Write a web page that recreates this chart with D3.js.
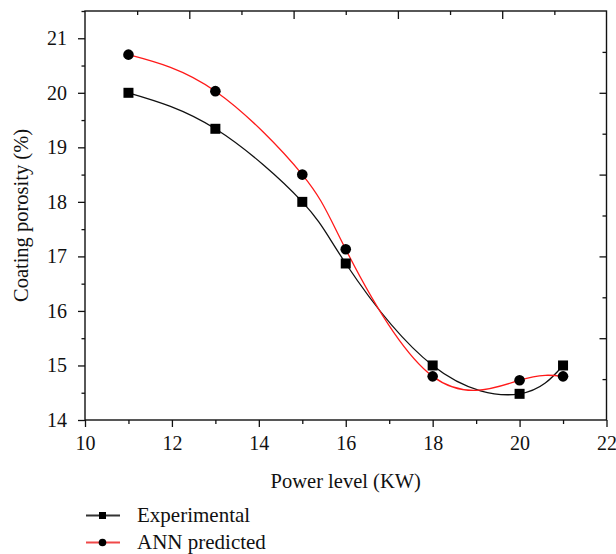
<!doctype html>
<html>
<head>
<meta charset="utf-8">
<title>Coating porosity vs power level</title>
<script src="https://d3js.org/d3.v7.min.js"></script>
<style>
  body { margin: 0; background: #fff; }
  svg text { font-family: "Liberation Serif", "DejaVu Serif", serif; fill: #111; }
</style>
</head>
<body>
<div id="chart"></div>
<script>
// data
const powerLevels = [11, 13, 15, 16, 18, 20, 21];
const experimental = [20.0, 19.34, 18.0, 16.87, 15.0, 14.48, 15.0];
const annPredicted = [20.7, 20.03, 18.5, 17.13, 14.8, 14.73, 14.8];
const xTicks = [10, 12, 14, 16, 18, 20, 22];
const xMinor = [11, 13, 15, 17, 19, 21];
const yTicks = [14, 15, 16, 17, 18, 19, 20, 21];
const yMinor = [14.5, 15.5, 16.5, 17.5, 18.5, 19.5, 20.5, 21.5];

const w = 616, h = 554;
const plotL = 85, plotR = 606.5, plotT = 11, plotB = 420;

const svg = d3.select("#chart").append("svg")
  .attr("width", w).attr("height", h);

const x = d3.scaleLinear().domain([10, 22]).range([plotL, plotR]);
const y = d3.scaleLinear().domain([14, 21.5]).range([plotB, plotT]);

// secondary scales only for the top/right tick marks (10 divisions each)
const xTop = d3.scaleLinear().domain([0, 10]).range([plotL, plotR]);
const yRight = d3.scaleLinear().domain([0, 10]).range([plotB, plotT]);

function styleAxis(g) {
  g.select(".domain").remove();
  g.selectAll(".tick line").attr("stroke", "#111").attr("stroke-width", 1.3);
  g.selectAll(".tick text").style("font-size", "20px").attr("fill", "#111");
}

// bottom axis
svg.append("g").attr("transform", "translate(0," + plotB + ")")
  .call(d3.axisBottom(x).tickValues(xTicks).tickSize(7).tickPadding(9).tickFormat(d3.format("d")))
  .call(styleAxis);
svg.append("g").attr("transform", "translate(0," + plotB + ")")
  .call(d3.axisBottom(x).tickValues(xMinor).tickSize(4).tickFormat(""))
  .call(styleAxis);

// left axis
svg.append("g").attr("transform", "translate(" + plotL + ",0)")
  .call(d3.axisLeft(y).tickValues(yTicks).tickSize(7).tickPadding(11).tickFormat(d3.format("d")))
  .call(styleAxis);
svg.append("g").attr("transform", "translate(" + plotL + ",0)")
  .call(d3.axisLeft(y).tickValues(yMinor).tickSize(3.5).tickFormat(""))
  .call(styleAxis);

// top axis, ticks pointing in
svg.append("g").attr("transform", "translate(0," + plotT + ")")
  .call(d3.axisBottom(xTop).tickValues(d3.range(2, 10, 2)).tickSize(8).tickFormat(""))
  .call(styleAxis);
svg.append("g").attr("transform", "translate(0," + plotT + ")")
  .call(d3.axisBottom(xTop).tickValues(d3.range(1, 10, 2)).tickSize(4).tickFormat(""))
  .call(styleAxis);

// right axis, ticks pointing in
svg.append("g").attr("transform", "translate(" + plotR + ",0)")
  .call(d3.axisLeft(yRight).tickValues(d3.range(2, 10, 2)).tickSize(7).tickFormat(""))
  .call(styleAxis);
svg.append("g").attr("transform", "translate(" + plotR + ",0)")
  .call(d3.axisLeft(yRight).tickValues(d3.range(1, 10, 2)).tickSize(4).tickFormat(""))
  .call(styleAxis);

// frame
svg.append("rect")
  .attr("x", plotL).attr("y", plotT)
  .attr("width", plotR - plotL).attr("height", plotB - plotT)
  .attr("fill", "none").attr("stroke", "#111").attr("stroke-width", 1.4);

// curves
const line = d3.line()
  .x((d) => x(d[0]))
  .y((d) => y(d[1]))
  .curve(d3.curveNatural);

const expPts = powerLevels.map((p, i) => [p, experimental[i]]);
const annPts = powerLevels.map((p, i) => [p, annPredicted[i]]);

svg.append("path").datum(expPts)
  .attr("d", line).attr("fill", "none")
  .attr("stroke", "#111").attr("stroke-width", 1.3);
svg.append("path").datum(annPts)
  .attr("d", line).attr("fill", "none")
  .attr("stroke", "#ff1a1a").attr("stroke-width", 1.3);

// markers
const sq = 10;
svg.selectAll("rect.exp").data(expPts).enter().append("rect")
  .attr("class", "exp")
  .attr("x", (d) => x(d[0]) - sq / 2)
  .attr("y", (d) => y(d[1]) - sq / 2)
  .attr("width", sq).attr("height", sq)
  .attr("fill", "#000");

svg.selectAll("circle.ann").data(annPts).enter().append("circle")
  .attr("class", "ann")
  .attr("cx", (d) => x(d[0]))
  .attr("cy", (d) => y(d[1]))
  .attr("r", 5.3)
  .attr("fill", "#000");

// axis titles
svg.append("text")
  .attr("x", (plotL + plotR) / 2).attr("y", 488)
  .attr("text-anchor", "middle")
  .style("font-size", "20.5px")
  .text("Power level (KW)");

svg.append("text")
  .attr("transform", "translate(28," + ((plotT + plotB) / 2) + ") rotate(-90)")
  .attr("text-anchor", "middle")
  .style("font-size", "20.5px")
  .text("Coating porosity (%)");

// legend
const legend = svg.append("g");
const rows = [
  { name: "Experimental", color: "#333", marker: "square", y: 515.5 },
  { name: "ANN predicted", color: "#f04848", marker: "circle", y: 542.5 }
];
rows.forEach((r) => {
  legend.append("line")
    .attr("x1", 86).attr("x2", 120)
    .attr("y1", r.y).attr("y2", r.y)
    .attr("stroke", r.color).attr("stroke-width", 2);
  if (r.marker === "square") {
    legend.append("rect")
      .attr("x", 102.5 - 3.5).attr("y", r.y - 3.5)
      .attr("width", 7).attr("height", 7).attr("fill", "#000");
  } else {
    legend.append("circle")
      .attr("cx", 102.5).attr("cy", r.y).attr("r", 3.8).attr("fill", "#000");
  }
  legend.append("text")
    .attr("x", 137).attr("y", r.y + 6)
    .style("font-size", "21px")
    .text(r.name);
});
</script>
</body>
</html>
